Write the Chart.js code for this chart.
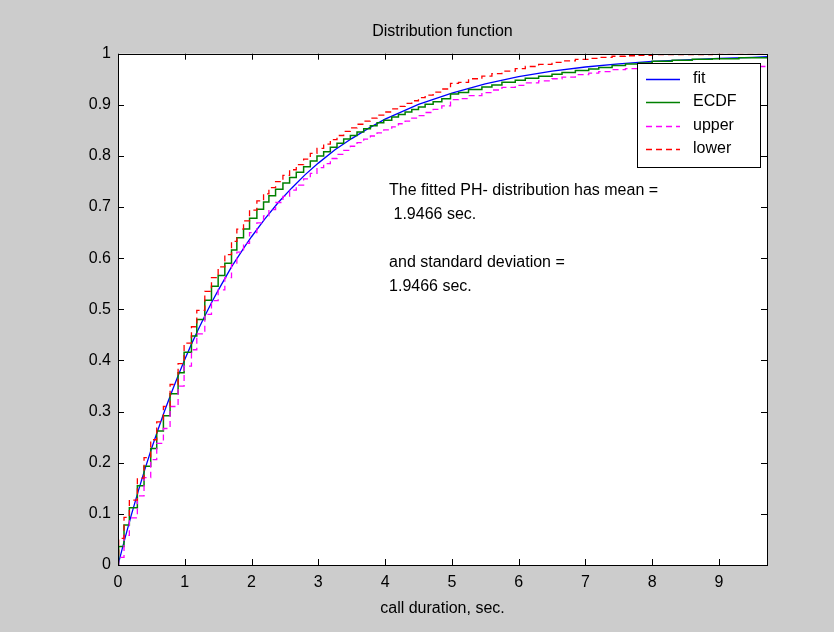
<!DOCTYPE html>
<html><head><meta charset="utf-8">
<script src="https://cdn.jsdelivr.net/npm/chart.js@4.4.1/dist/chart.umd.min.js"></script>
<style>html,body{margin:0;padding:0;background:#cccccc;overflow:hidden;} canvas{display:block;}</style>
</head><body>
<canvas id="c" width="834" height="632"></canvas>
<script>
// ---- data ----
const stepX  = [0,0.01,0.09,0.17,0.29,0.39,0.49,0.58,0.68,0.78,0.90,0.99,1.10,1.18,1.30,1.40,1.50,1.60,1.70,1.78,1.88,1.97,2.08,2.18,2.26,2.36,2.47,2.57,2.67,2.78,2.88,2.98,3.08,3.18,3.28,3.38,3.48,3.58,3.68,3.78,3.88,3.98,4.10,4.20,4.30,4.40,4.50,4.60,4.72,4.85,4.98,5.10,5.25,5.45,5.60,5.75,5.95,6.10,6.30,6.50,6.65,6.85,7.05,7.20,7.40,7.60,7.80,8.00,8.30,8.60,8.90,9.30,9.72];
const ecdfY  = [0,0.036,0.078,0.112,0.155,0.193,0.228,0.262,0.292,0.335,0.376,0.416,0.448,0.480,0.518,0.545,0.566,0.590,0.616,0.640,0.657,0.678,0.696,0.710,0.722,0.735,0.747,0.758,0.768,0.779,0.790,0.800,0.808,0.817,0.825,0.833,0.840,0.847,0.853,0.859,0.865,0.870,0.876,0.881,0.886,0.891,0.896,0.901,0.906,0.912,0.921,0.924,0.930,0.935,0.939,0.944,0.948,0.952,0.956,0.960,0.963,0.967,0.970,0.973,0.977,0.980,0.982,0.985,0.987,0.989,0.990,0.992,0.993];
const upperY = [0,0.015,0.058,0.092,0.135,0.171,0.206,0.238,0.267,0.310,0.350,0.389,0.421,0.452,0.490,0.517,0.538,0.562,0.588,0.612,0.629,0.650,0.669,0.683,0.695,0.709,0.721,0.733,0.743,0.755,0.766,0.777,0.785,0.795,0.803,0.811,0.819,0.826,0.833,0.839,0.845,0.851,0.857,0.863,0.868,0.874,0.879,0.885,0.891,0.898,0.910,0.912,0.918,0.924,0.929,0.934,0.938,0.943,0.947,0.951,0.954,0.959,0.962,0.965,0.969,0.971,0.972,0.973,0.973,0.974,0.974,0.975,0.975];
const lowerY = [0.020,0.052,0.093,0.127,0.170,0.210,0.245,0.280,0.310,0.353,0.394,0.434,0.466,0.498,0.535,0.562,0.583,0.607,0.633,0.657,0.673,0.694,0.712,0.726,0.738,0.750,0.762,0.773,0.783,0.794,0.805,0.815,0.823,0.832,0.840,0.848,0.855,0.862,0.868,0.874,0.880,0.886,0.892,0.897,0.903,0.908,0.914,0.919,0.925,0.931,0.942,0.944,0.951,0.956,0.961,0.966,0.971,0.975,0.979,0.983,0.986,0.989,0.991,0.993,0.995,0.996,0.997,0.998,0.998,0.998,0.999,0.999,0.999];
const fitX   = [0,0.1,0.2,0.3,0.4,0.5,0.6,0.7,0.8,0.9,1.0,1.1,1.2,1.3,1.4,1.5,1.6,1.7,1.8,1.9,2.0,2.2,2.4,2.6,2.8,3.0,3.25,3.5,3.75,4.0,4.5,5.0,5.5,6.0,6.5,7.0,7.5,8.0,8.5,9.0,9.5,9.72];
const fitY   = [0,0.050,0.098,0.143,0.186,0.227,0.265,0.302,0.337,0.370,0.402,0.432,0.460,0.487,0.513,0.537,0.560,0.583,0.603,0.623,0.642,0.677,0.709,0.737,0.763,0.786,0.812,0.834,0.854,0.872,0.901,0.923,0.941,0.955,0.966,0.974,0.980,0.985,0.988,0.991,0.993,0.994];
const seriesNames = ['fit','ECDF','upper','lower'];
const xTicks = [0,1,2,3,4,5,6,7,8,9];
const yTicks = [0,0.1,0.2,0.3,0.4,0.5,0.6,0.7,0.8,0.9,1];
const xMax = 9.72;
const titleText = 'Distribution function';
const xLabel = 'call duration, sec.';
const noteLines = ['The fitted PH- distribution has mean =', ' 1.9466 sec.', '', 'and standard deviation =', '1.9466 sec.'];
const noteAt = {x: 4.06, y: 0.732};

// ---- chart ----
const FONT = 'Liberation Sans, Arial, Helvetica, sans-serif';
const pts = (xs, ys) => xs.map((x, i) => ({x: x, y: ys[i]}));

const framePlugin = {
  id: 'frame',
  beforeDraw(chart) {
    const {ctx, chartArea: a} = chart;
    ctx.save();
    ctx.fillStyle = '#ffffff';
    ctx.fillRect(a.left, a.top, a.right - a.left, a.bottom - a.top);
    ctx.restore();
  },
  afterDatasetsDraw(chart) {
    const {ctx, chartArea: a, scales} = chart;
    ctx.save();
    ctx.strokeStyle = '#000000';
    ctx.lineWidth = 1;
    ctx.setLineDash([]);
    ctx.strokeRect(Math.round(a.left) + 0.5, Math.round(a.top) + 0.5, Math.round(a.right - a.left), Math.round(a.bottom - a.top));
    const tl = 6;
    ctx.beginPath();
    xTicks.forEach(v => {
      const px = Math.round(scales.x.getPixelForValue(v)) + 0.5;
      ctx.moveTo(px, a.bottom); ctx.lineTo(px, a.bottom - tl);
      ctx.moveTo(px, a.top); ctx.lineTo(px, a.top + tl);
    });
    yTicks.forEach(v => {
      const py = Math.round(scales.y.getPixelForValue(v)) + 0.5;
      ctx.moveTo(a.left, py); ctx.lineTo(a.left + tl, py);
      ctx.moveTo(a.right, py); ctx.lineTo(a.right - tl, py);
    });
    ctx.stroke();

    // annotation text
    ctx.fillStyle = '#000000';
    ctx.font = '16px ' + FONT;
    ctx.textAlign = 'left';
    ctx.textBaseline = 'middle';
    const nx = scales.x.getPixelForValue(noteAt.x);
    const ny = scales.y.getPixelForValue(noteAt.y);
    noteLines.forEach((t, i) => ctx.fillText(t, nx, ny + i * 24));

    // legend box
    const bw = 123, bh = 104;
    const bx = Math.round(a.right) - 7 - bw, by = Math.round(a.top) + 9;
    ctx.fillStyle = '#ffffff';
    ctx.fillRect(bx, by, bw, bh);
    ctx.strokeStyle = '#000000';
    ctx.strokeRect(bx + 0.5, by + 0.5, bw, bh);
    chart.data.datasets.forEach((ds, i) => {
      const cy = by + 15.5 + i * 23.5;
      ctx.strokeStyle = ds.borderColor;
      ctx.lineWidth = ds.borderWidth;
      ctx.setLineDash(ds.borderDash || []);
      ctx.beginPath();
      ctx.moveTo(bx + 9, Math.round(cy) + 0.5);
      ctx.lineTo(bx + 43, Math.round(cy) + 0.5);
      ctx.stroke();
      ctx.setLineDash([]);
      ctx.fillStyle = '#000000';
      ctx.fillText(ds.label, bx + 56, cy);
    });
    ctx.restore();
  }
};

new Chart(document.getElementById('c'), {
  type: 'line',
  data: {
    datasets: [
      {label: seriesNames[0], data: pts(fitX, fitY), borderColor: '#0000ff', borderWidth: 1.3, order: 4},
      {label: seriesNames[1], data: pts(stepX, ecdfY), borderColor: '#008000', borderWidth: 1.5, stepped: 'before', order: 3},
      {label: seriesNames[2], data: pts(stepX, upperY), borderColor: '#ff00ff', borderWidth: 1.3, borderDash: [6, 4], stepped: 'before', order: 2},
      {label: seriesNames[3], data: pts(stepX, lowerY), borderColor: '#ff0000', borderWidth: 1.3, borderDash: [6, 4], stepped: 'before', order: 1}
    ]
  },
  options: {
    responsive: false,
    animation: false,
    devicePixelRatio: 1,
    parsing: true,
    elements: {point: {radius: 0}, line: {tension: 0, fill: false}},
    layout: {padding: {left: 0, right: 67, top: 0, bottom: 0}},
    plugins: {
      legend: {display: false},
      tooltip: {enabled: false},
      title: {display: true, text: titleText, color: '#000000', fullSize: false,
              font: {family: FONT, size: 16, weight: 'normal'}, padding: {top: 22, bottom: 12.5}}
    },
    scales: {
      x: {
        type: 'linear', min: 0, max: xMax,
        grid: {display: false, drawTicks: false},
        border: {display: false},
        afterBuildTicks: s => { s.ticks = xTicks.map(v => ({value: v})); },
        ticks: {color: '#000000', padding: 8, font: {family: FONT, size: 16}, maxRotation: 0,
                callback: v => String(v)},
        title: {display: true, text: xLabel, color: '#000000', font: {family: FONT, size: 16}, padding: {top: 0, bottom: 14}},
        afterFit: s => { s.height = 67; }
      },
      y: {
        type: 'linear', min: 0, max: 1,
        grid: {display: false, drawTicks: false},
        border: {display: false},
        afterBuildTicks: s => { s.ticks = yTicks.map(v => ({value: v})); },
        ticks: {color: '#000000', padding: 7, font: {family: FONT, size: 16},
                callback: v => String(Math.round(v * 10) / 10)},
        afterFit: s => { s.width = 118; }
      }
    }
  },
  plugins: [framePlugin]
});
</script>
</body></html>
